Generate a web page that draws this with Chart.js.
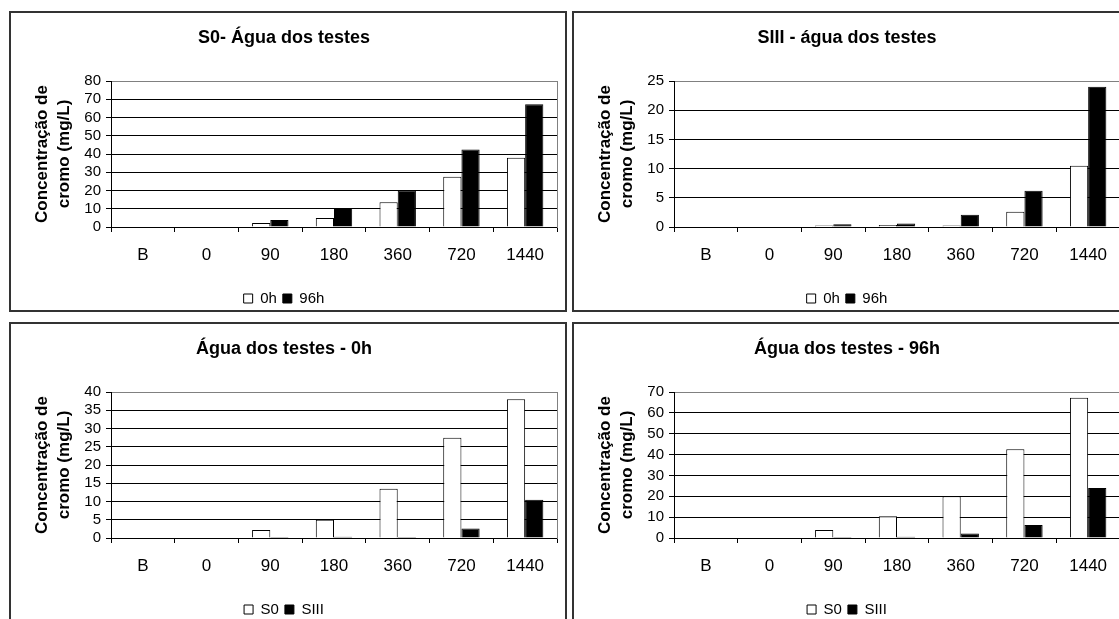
<!DOCTYPE html>
<html lang="pt">
<head>
  <meta charset="UTF-8" />
  <title>Concentração de cromo</title>
  <script src="https://cdn.jsdelivr.net/npm/chart.js"></script>
  <style>
    body {
      margin: 0;
      background: #fff;
      width: 1119px;
      height: 619px;
      overflow: hidden;
      position: relative;
      font-family: Arial, 'Liberation Sans', sans-serif;
    }

    .panel {
      position: absolute;
      width: 554px;
      height: 297px;
      border: 2px solid #333;
      overflow: hidden;
      background: #fff;
    }

    .panel canvas {
      position: absolute;
      left: 0;
      top: 0;
    }
  </style>
</head>
<body>

  <div class="panel" style="left:9px; top:11px;"><canvas id="c1" width="554" height="303"></canvas></div>
  <div class="panel" style="left:572px; top:11px;"><canvas id="c2" width="554" height="303"></canvas></div>
  <div class="panel" style="left:9px; top:322px;"><canvas id="c3" width="554" height="303"></canvas></div>
  <div class="panel" style="left:572px; top:322px;"><canvas id="c4" width="554" height="303"></canvas></div>

  <script>
    const categories = ['B', '0', '90', '180', '360', '720', '1440'];

    // S0 water, at 0h and after 96h (mg/L)
    const s0_0h = [0, 0, 2.2, 5, 13.5, 27.5, 38];
    const s0_96h = [0, 0, 3.8, 10.4, 20, 42.5, 67.3];

    // SIII water, at 0h and after 96h (mg/L)
    const s3_0h = [0, 0, 0.25, 0.35, 0.25, 2.6, 10.5];
    const s3_96h = [0, 0, 0.45, 0.6, 2.1, 6.2, 24];

    const font = "Arial, 'Liberation Sans', sans-serif";

    function makeChart(id, title, labelA, dataA, labelB, dataB, yMax, yStep) {
      new Chart(document.getElementById(id), {
        type: 'bar',
        data: {
          labels: categories,
          datasets: [
            {
              label: labelA,
              data: dataA,
              backgroundColor: '#ffffff',
              borderColor: '#000000',
              borderWidth: 1,
              categoryPercentage: 2 / 3.5,
              barPercentage: 1
            },
            {
              label: labelB,
              data: dataB,
              backgroundColor: '#000000',
              borderColor: '#000000',
              borderWidth: 1,
              categoryPercentage: 2 / 3.5,
              barPercentage: 1
            }
          ]
        },
        options: {
          responsive: false,
          animation: false,
          devicePixelRatio: 1,
          layout: {
            padding: { left: 0, right: 8, top: 0, bottom: 0 }
          },
          plugins: {
            tooltip: { enabled: false },
            title: {
              display: true,
              text: title,
              color: '#000',
              font: { family: font, size: 18, weight: 'bold', lineHeight: 1.2 },
              padding: { top: 14.2, bottom: 32.2 }
            },
            legend: {
              position: 'bottom',
              labels: {
                color: '#000',
                boxWidth: 9,
                boxHeight: 9,
                padding: 6,
                font: { family: font, size: 15 }
              }
            }
          },
          scales: {
            x: {
              grid: {
                display: true,
                drawOnChartArea: false,
                drawTicks: true,
                tickLength: 5,
                color: '#000',
                offset: true
              },
              border: { display: true, color: '#000', width: 1 },
              ticks: {
                color: '#000',
                padding: 13,
                maxRotation: 0,
                autoSkip: false,
                font: { family: font, size: 17 }
              },
              afterFit: function (scale) { scale.height = 58; }
            },
            y: {
              min: 0,
              max: yMax,
              ticks: {
                stepSize: yStep,
                autoSkip: false,
                color: '#000',
                padding: 5,
                font: { family: font, size: 15 }
              },
              grid: {
                color: function (ctx) {
                  return ctx.tick && ctx.tick.value === yMax ? '#808080' : '#000';
                },
                tickColor: '#000',
                tickLength: 5,
                lineWidth: 1
              },
              border: { display: true, color: '#000', width: 1 },
              title: {
                display: true,
                text: ['Concentração de', 'cromo (mg/L)'],
                color: '#000',
                font: { family: font, size: 17, weight: 'bold', lineHeight: 1.25 },
                padding: { top: 21, bottom: 0 }
              },
              afterFit: function (scale) { scale.width = 100; }
            },
            y2: {
              position: 'right',
              display: true,
              grid: { display: false, drawTicks: false },
              ticks: { display: false },
              border: { display: true, color: '#808080', width: 1 },
              afterFit: function (scale) { scale.width = 0; }
            }
          }
        }
      });
    }

    makeChart('c1', 'S0- Água dos testes', '0h', s0_0h, '96h', s0_96h, 80, 10);
    makeChart('c2', 'SIII - água dos testes', '0h', s3_0h, '96h', s3_96h, 25, 5);
    makeChart('c3', 'Água dos testes - 0h', 'S0', s0_0h, 'SIII', s3_0h, 40, 5);
    makeChart('c4', 'Água dos testes - 96h', 'S0', s0_96h, 'SIII', s3_96h, 70, 10);
  </script>
</body>
</html>
